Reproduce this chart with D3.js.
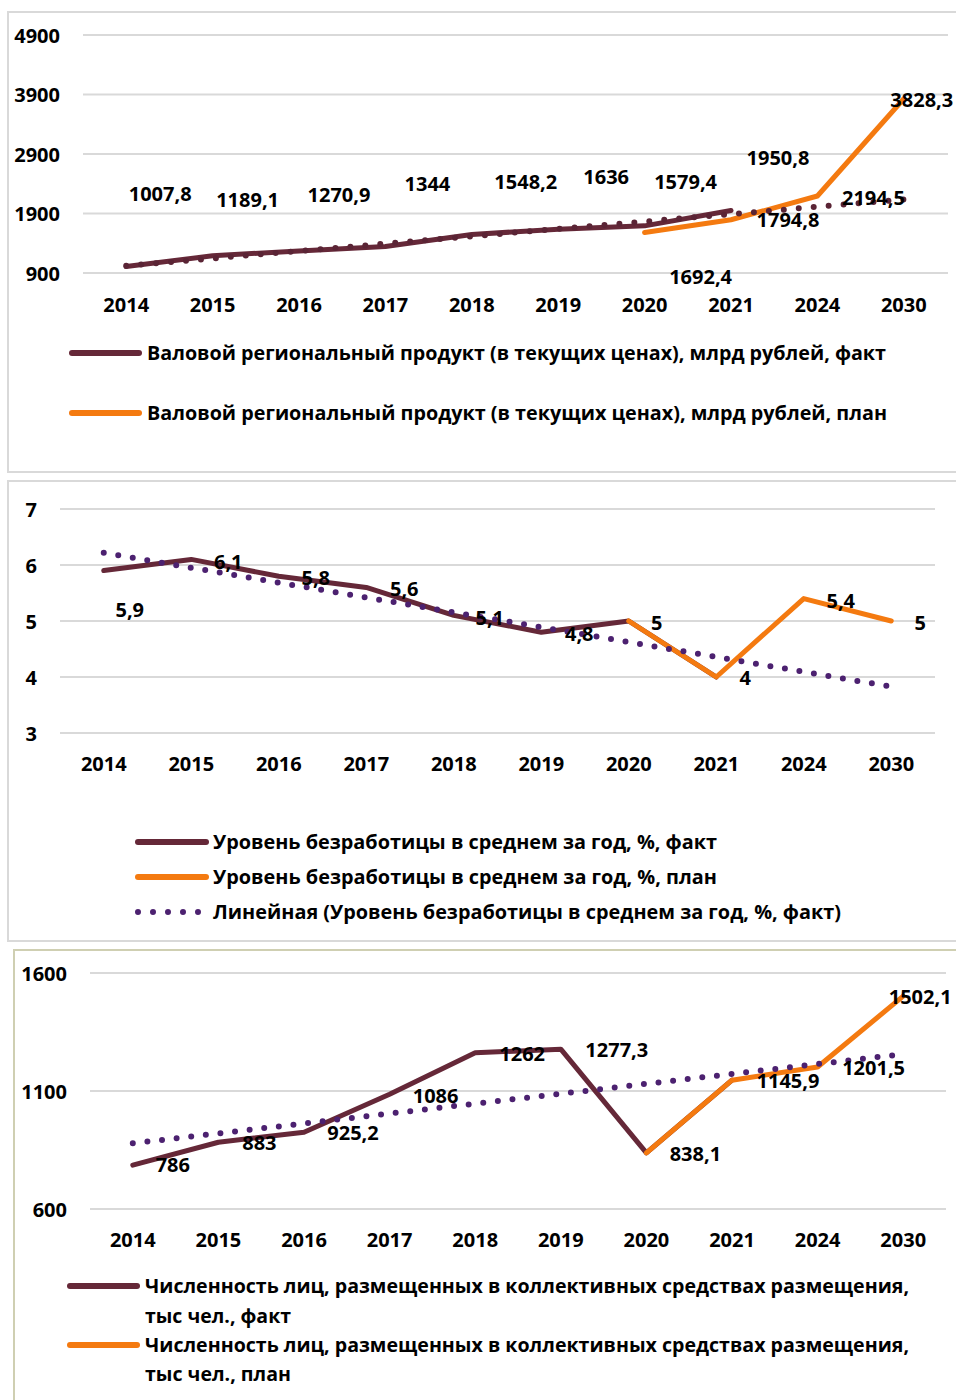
<!DOCTYPE html>
<html lang="ru">
<head>
<meta charset="utf-8">
<title>Показатели региона: факт и план</title>
<script src="https://cdn.jsdelivr.net/npm/d3@7"></script>
<style>
  html, body { margin: 0; padding: 0; background: #ffffff; }
  svg { display: block; }
  text { font-family: "Open Sans", "DejaVu Sans", sans-serif; font-weight: 700; fill: #000; }
</style>
</head>
<body>
<div id="chart"></div>
<script>
// ---- data ----
const years = ["2014", "2015", "2016", "2017", "2018", "2019", "2020", "2021", "2024", "2030"];
const factYears = ["2014", "2015", "2016", "2017", "2018", "2019", "2020", "2021"];
const planYears = ["2020", "2021", "2024", "2030"];

// Валовой региональный продукт, млрд рублей
const grpFact = [1007.8, 1189.1, 1270.9, 1344, 1548.2, 1636, 1692.4, 1950.8];
const grpPlan = [1579.4, 1794.8, 2194.5, 3828.3];
const grpTicks = [900, 1900, 2900, 3900, 4900];

// Уровень безработицы, %
const jobFact = [5.9, 6.1, 5.8, 5.6, 5.1, 4.8, 5, 4];
const jobPlan = [5, 4, 5.4, 5];
const jobTicks = [3, 4, 5, 6, 7];

// Численность лиц в коллективных средствах размещения, тыс чел.
const guestFact = [786, 883, 925.2, 1086, 1262, 1277.3, 838.1, 1145.9];
const guestPlan = [838.1, 1145.9, 1201.5, 1502.1];
const guestTicks = [600, 1100, 1600];

// ---- styling ----
const FACT = "#652838";
const PLAN = "#f47a10";
const TREND_PURPLE = "#4c2170";
const GRID = "#d9d9d9";
const fmt = v => String(v).replace(".", ",");

const W = 956, H = 1400;
const svg = d3.select("#chart").append("svg").attr("width", W).attr("height", H);

// least-squares trend over the fact series, evaluated for every category slot
function trendValues(values, count) {
  const xs = values.map((_, i) => i + 1);
  const mx = d3.mean(xs), my = d3.mean(values);
  const sxy = d3.sum(values, (v, i) => (xs[i] - mx) * (v - my));
  const sxx = d3.sum(xs, x => (x - mx) * (x - mx));
  const b = sxy / sxx, a = my - b * mx;
  return d3.range(count).map(i => a + b * (i + 1));
}

function drawPanel(cfg) {
  const g = svg.append("g");

  g.append("rect")
    .attr("x", cfg.frame.x).attr("y", cfg.frame.y)
    .attr("width", cfg.frame.w).attr("height", cfg.frame.h)
    .attr("fill", "none").attr("stroke", cfg.frame.stroke).attr("stroke-width", 2);

  const x = d3.scaleBand().domain(years).range(cfg.xRange);
  const cx = d => x(d) + x.bandwidth() / 2;
  const y = d3.scaleLinear().domain(cfg.yDomain).range(cfg.yRange);

  // gridlines
  g.append("g").selectAll("line").data(cfg.ticks).join("line")
    .attr("x1", cfg.gridX[0]).attr("x2", cfg.gridX[1])
    .attr("y1", d => y(d)).attr("y2", d => y(d))
    .attr("stroke", GRID).attr("stroke-width", 2);

  // value axis
  const yAxis = g.append("g")
    .attr("transform", `translate(${cfg.tickX},0)`)
    .call(d3.axisLeft(y).tickValues(cfg.ticks).tickSize(0).tickPadding(0).tickFormat(fmt));
  yAxis.select(".domain").remove();
  yAxis.selectAll("text").attr("font-size", 20).attr("dy", "0.35em")
    .style("font-family", "'Open Sans', sans-serif").style("font-weight", 700);

  // category axis
  const xAxis = g.append("g")
    .attr("transform", `translate(0,${cfg.xLabelY})`)
    .call(d3.axisBottom(x).tickSize(0).tickPadding(0));
  xAxis.select(".domain").remove();
  xAxis.selectAll("text").attr("font-size", 20).attr("y", 0).attr("dy", "0.35em")
    .style("font-family", "'Open Sans', sans-serif").style("font-weight", 700);

  const line = d3.line().x(d => cx(d.year)).y(d => y(d.value));
  const factPts = factYears.map((yr, i) => ({ year: yr, value: cfg.fact[i] }));
  const planPts = planYears.map((yr, i) => ({ year: yr, value: cfg.plan[i] }));

  g.append("path").datum(factPts).attr("d", line)
    .attr("fill", "none").attr("stroke", FACT).attr("stroke-width", 5)
    .attr("stroke-linejoin", "round").attr("stroke-linecap", "round");

  g.append("path").datum(planPts).attr("d", line)
    .attr("fill", "none").attr("stroke", PLAN).attr("stroke-width", 5)
    .attr("stroke-linejoin", "round").attr("stroke-linecap", "round");

  // linear trend of the fact series
  const tv = trendValues(cfg.fact, years.length);
  const trendPts = [{ year: years[0], value: tv[0] }, { year: years[years.length - 1], value: tv[tv.length - 1] }];
  g.append("path").datum(trendPts).attr("d", line)
    .attr("fill", "none").attr("stroke", cfg.trendColor).attr("stroke-width", cfg.trendDot)
    .attr("stroke-linecap", "round").attr("stroke-dasharray", `0 ${cfg.trendGap}`);

  // data labels
  const labels = [];
  factPts.forEach((p, i) => { const o = cfg.factLabelOffsets[i]; if (o) labels.push({ p, o }); });
  planPts.forEach((p, i) => { const o = cfg.planLabelOffsets[i]; if (o) labels.push({ p, o }); });
  g.append("g").selectAll("text").data(labels).join("text")
    .attr("x", d => cx(d.p.year) + d.o[0])
    .attr("y", d => y(d.p.value) + d.o[1])
    .attr("dy", "0.35em").attr("text-anchor", "middle").attr("font-size", 20)
    .text(d => fmt(d.p.value));

  // legend
  const lg = g.append("g");
  cfg.legend.forEach(item => {
    if (item.kind === "dots") {
      lg.append("line")
        .attr("x1", item.x1).attr("x2", item.x2 + 0.5).attr("y1", item.y).attr("y2", item.y)
        .attr("stroke", item.color).attr("stroke-width", 6)
        .attr("stroke-linecap", "round").attr("stroke-dasharray", `0 ${(item.x2 - item.x1) / 4}`);
    } else {
      lg.append("line")
        .attr("x1", item.x1).attr("x2", item.x2).attr("y1", item.y).attr("y2", item.y)
        .attr("stroke", item.color).attr("stroke-width", 6).attr("stroke-linecap", "round");
    }
    item.lines.forEach((ln, k) => {
      lg.append("text")
        .attr("x", item.textX).attr("y", item.y + k * item.lineGap)
        .attr("dy", "0.35em").attr("font-size", 19)
        .attr("textLength", ln.width).attr("lengthAdjust", "spacingAndGlyphs")
        .text(ln.text);
    });
  });
}

drawPanel({
  frame: { x: 8, y: 12, w: 970, h: 460, stroke: "#d9d9d9" },
  xRange: [83, 947], gridX: [83, 948],
  yDomain: [900, 4900], yRange: [273, 35], ticks: grpTicks,
  tickX: 60, xLabelY: 305,
  fact: grpFact, plan: grpPlan,
  trendColor: "#5a2435", trendDot: 6, trendGap: 15,
  factLabelOffsets: [[34, -73], [35, -56], [40, -56], [42, -63], [54, -52], [48, -52], [56, 51], [47, -52]],
  planLabelOffsets: [[41, -51], [57, 0], [56, 2], [18, 1]],
  legend: [
    { color: FACT, x1: 72, x2: 139, y: 353, textX: 147, lineGap: 0,
      lines: [{ text: "Валовой региональный продукт (в текущих ценах), млрд рублей, факт", width: 739 }] },
    { color: PLAN, x1: 72, x2: 139, y: 413, textX: 147, lineGap: 0,
      lines: [{ text: "Валовой региональный продукт (в текущих ценах), млрд рублей, план", width: 740 }] }
  ]
});

drawPanel({
  frame: { x: 8, y: 481, w: 970, h: 460, stroke: "#d9d9d9" },
  xRange: [60, 935], gridX: [60, 935],
  yDomain: [3, 7], yRange: [733, 509], ticks: jobTicks,
  tickX: 37, xLabelY: 764,
  fact: jobFact, plan: jobPlan,
  trendColor: TREND_PURPLE, trendDot: 6, trendGap: 14.7,
  factLabelOffsets: [[26, 39], [37, 3], [37, 2], [38, 2], [36, 3], [38, 2], null, null],
  planLabelOffsets: [[28, 2], [29, 1], [37, 2], [29, 2]],
  legend: [
    { color: FACT, x1: 138, x2: 206, y: 842, textX: 213, lineGap: 0,
      lines: [{ text: "Уровень безработицы в среднем за год, %, факт", width: 504 }] },
    { color: PLAN, x1: 138, x2: 206, y: 877, textX: 213, lineGap: 0,
      lines: [{ text: "Уровень безработицы в среднем за год, %, план", width: 504 }] },
    { kind: "dots", color: TREND_PURPLE, x1: 138, x2: 198, y: 912, textX: 213, lineGap: 0,
      lines: [{ text: "Линейная (Уровень безработицы в среднем за год, %, факт)", width: 628 }] }
  ]
});

drawPanel({
  frame: { x: 14, y: 950, w: 970, h: 480, stroke: "#cfcfb2" },
  xRange: [90, 946], gridX: [90, 946],
  yDomain: [600, 1600], yRange: [1209, 973], ticks: guestTicks,
  tickX: 67, xLabelY: 1240,
  fact: guestFact, plan: guestPlan,
  trendColor: TREND_PURPLE, trendDot: 6, trendGap: 14.7,
  factLabelOffsets: [[40, 0], [41, 1], [49, 1], [46, 2], [47, 1], [56, 1], null, null],
  planLabelOffsets: [[49, 1], [56, 1], [56, 1], [17, 1]],
  legend: [
    { color: FACT, x1: 70, x2: 137, y: 1286, textX: 145, lineGap: 30,
      lines: [
        { text: "Численность лиц, размещенных в коллективных средствах размещения,", width: 764 },
        { text: "тыс чел., факт", width: 146 }
      ] },
    { color: PLAN, x1: 70, x2: 137, y: 1345, textX: 145, lineGap: 29,
      lines: [
        { text: "Численность лиц, размещенных в коллективных средствах размещения,", width: 764 },
        { text: "тыс чел., план", width: 146 }
      ] }
  ]
});
</script>
</body>
</html>
